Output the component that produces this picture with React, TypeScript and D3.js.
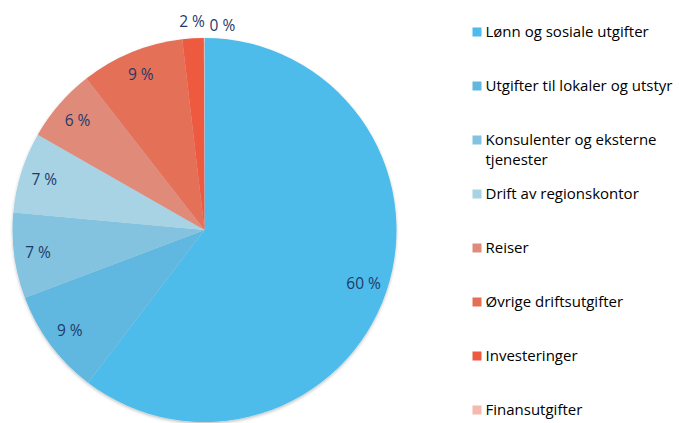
import React from "react";
import * as d3 from "d3";

const categories = [
  "Lønn og sosiale utgifter",
  "Utgifter til lokaler og utstyr",
  "Konsulenter og eksterne tjenester",
  "Drift av regionskontor",
  "Reiser",
  "Øvrige driftsutgifter",
  "Investeringer",
  "Finansutgifter",
];
const values = [60.4, 8.9, 7.2, 6.8, 6.2, 8.7, 1.8, 0.05];
const valueLabels = ["60 %", "9 %", "7 %", "7 %", "6 %", "9 %", "2 %", "0 %"];
const legendLines = [
  ["Lønn og sosiale utgifter"],
  ["Utgifter til lokaler og utstyr"],
  ["Konsulenter og eksterne", "tjenester"],
  ["Drift av regionskontor"],
  ["Reiser"],
  ["Øvrige driftsutgifter"],
  ["Investeringer"],
  ["Finansutgifter"],
];
const colors = [
  "#4DBCEB",
  "#60B8E0",
  "#83C3DF",
  "#A8D3E5",
  "#E08A7A",
  "#E46F59",
  "#EE5A40",
  "#F5B9B0",
];

const W = 679;
const H = 423;
const cx = 204.5;
const cy = 230;
const R = 192;

export default function App() {
  const pie = d3.pie<number>().value((d) => d).sort(null);
  const arcs = pie(values);
  const arcGen = d3.arc<d3.PieArcDatum<number>>().innerRadius(0).outerRadius(R);
  const labelArc = d3.arc<d3.PieArcDatum<number>>().innerRadius(168).outerRadius(168);
  const outArc = d3.arc<d3.PieArcDatum<number>>().innerRadius(209).outerRadius(209);

  const legendY = d3.scaleLinear().domain([0, 7]).range([37, 415]);

  return (
    <svg
      width={W}
      height={H}
      style={{ position: "absolute", left: 0, top: 0, background: "#fff" }}
      fontFamily="'Open Sans', sans-serif"
    >
      <defs>
        <filter id="sh" x="-10%" y="-10%" width="120%" height="120%">
          <feDropShadow dx="0" dy="1.5" stdDeviation="1.5" floodColor="#000" floodOpacity="0.25" />
        </filter>
      </defs>
      <g transform={`translate(${cx},${cy})`}>
        <g filter="url(#sh)">
          {arcs.map((a, i) => (
            <path key={i} d={arcGen(a) || ""} fill={colors[i]} />
          ))}
        </g>
        {arcs.map((a, i) => {
          const outside = values[i] < 3;
          let [x, y] = outside ? outArc.centroid(a) : labelArc.centroid(a);
          if (i === 7) {
            const ang = (5 * Math.PI) / 180;
            x = 205 * Math.sin(ang);
            y = -205 * Math.cos(ang);
          }
          return (
            <text
              key={i}
              x={x}
              y={y}
              dy="0.36em"
              textAnchor="middle"
              fontSize={15.5}
              fill="#1F3A68"
            >
              {valueLabels[i]}
            </text>
          );
        })}
      </g>
      <g>
        {categories.map((c, i) => {
          const y = legendY(i);
          return (
            <g key={c}>
              <rect x={472.5} y={y - 9.5} width={9} height={9} fill={colors[i]} />
              {legendLines[i].map((ln, j) => (
                <text key={j} x={485.5} y={y + j * 20} fontSize={15} fill="#000">
                  {ln}
                </text>
              ))}
            </g>
          );
        })}
      </g>
    </svg>
  );
}
